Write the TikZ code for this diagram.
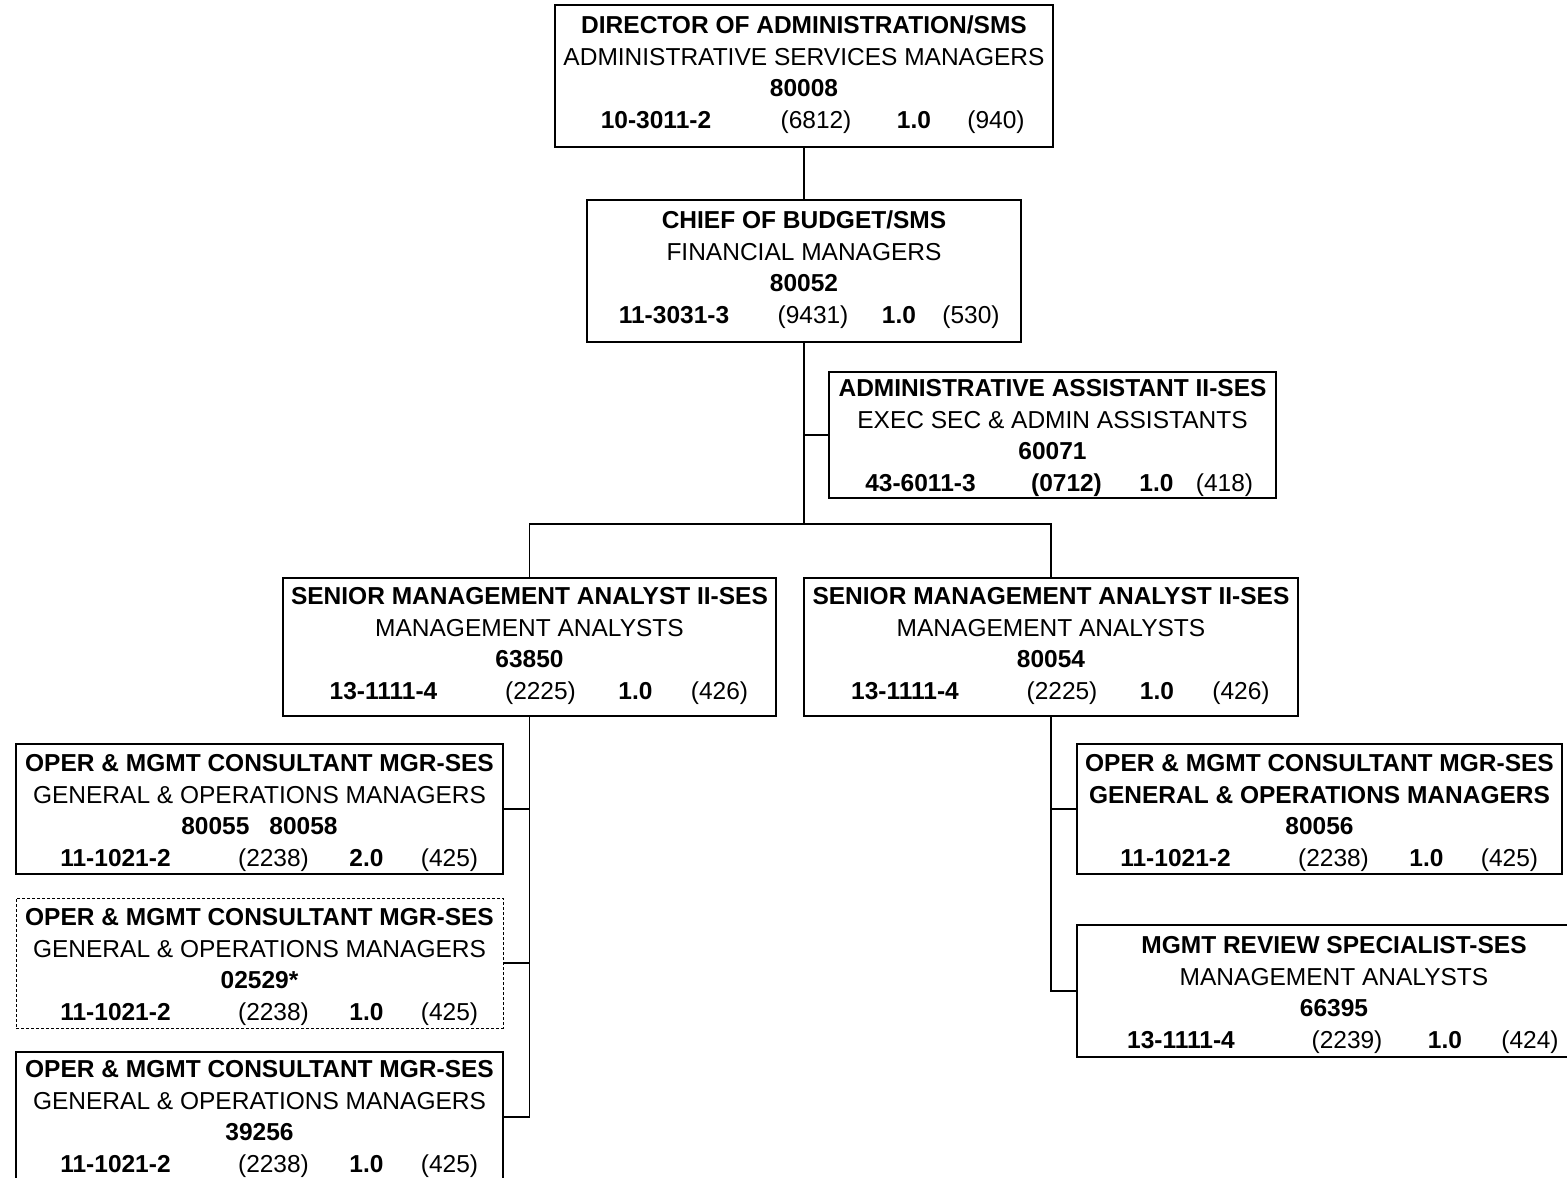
\documentclass[tikz,border=0pt]{standalone}
\usepackage{fontspec}
\setmainfont{Liberation Sans}
\usetikzlibrary{calc}

\tikzset{
  orgbox/.style={draw, line width=1.3pt, rectangle, inner sep=0pt},
  vacant/.style={draw, line width=1pt, dash pattern=on 3pt off 2pt, rectangle, inner sep=0pt},
  txt/.style={inner sep=0pt, anchor=base, font=\fontsize{24.5}{29}\selectfont},
  link/.style={line width=1.3pt},
}

% column offsets of the last line (code, class, FTE, range)
\def\colA{-145}\def\colB{12}\def\colC{108}\def\colD{190}

% #1 box, #2 first line offset, #3 title, #4 class title, #5 position no.,
% #6 code, #7 class no., #8 FTE, #9 range
\newcommand\staffbox[9]{%
  \node[txt] (#1-t) at ($(#1.north)+(0,#2+9)$) {\bfseries #3};
  \node[txt] (#1-s) at ($(#1.north)+(0,#2+40.7)$) {#4};
  \node[txt] (#1-n) at ($(#1.north)+(0,#2+72.4)$) {\bfseries #5};
  \node[txt] (#1-a) at ($(#1.north)+(\colA,#2+104)$) {\bfseries #6};
  \node[txt] (#1-b) at ($(#1.north)+(\colB,#2+104)$) {#7};
  \node[txt] (#1-c) at ($(#1.north)+(\colC,#2+104)$) {\bfseries #8};
  \node[txt] (#1-d) at ($(#1.north)+(\colD,#2+104)$) {#9};
}

\begin{document}
\begin{tikzpicture}[x=1pt, y=-1pt]
\useasboundingbox (0,0) rectangle (1567,1178);
\clip (0,0) rectangle (1567,1178);

% boxes
\node[orgbox, minimum width=498pt, minimum height=142pt] (dir)   at (804,76) {};
\node[orgbox, minimum width=434pt, minimum height=142pt] (chief) at (804,271) {};
\node[orgbox, minimum width=447pt, minimum height=126pt] (asst)  at (1052.5,435) {};
\node[orgbox, minimum width=493pt, minimum height=138pt] (smaL)  at (529.5,647) {};
\node[orgbox, minimum width=494pt, minimum height=138pt] (smaR)  at (1051,647) {};
\node[orgbox, minimum width=487pt, minimum height=130pt] (opA)   at (259.5,809) {};
\node[vacant, minimum width=487pt, minimum height=130pt] (opB)   at (259.5,963) {};
\node[orgbox, minimum width=487pt, minimum height=130pt] (opC)   at (259.5,1117) {};
\node[orgbox, minimum width=485pt, minimum height=130pt] (opR)   at (1319.5,809) {};
\node[orgbox, minimum width=514pt, minimum height=132pt] (rev)   at (1334,991) {};

% connectors
\coordinate (bus) at (804,524);
\draw[link] (dir.south) -- (chief.north);
\draw[link] (chief.south) -- (bus);
\draw[link] (asst.west) -- (asst.west -| chief.south);
\draw[link] (smaL.north) |- (bus) -| (smaR.north);
\draw[link] (smaL.south) |- (opC.east);
\draw[link] (opA.east) -- (opA.east -| smaL.south);
\draw[link] (opB.east) -- (opB.east -| smaL.south);
\draw[link] (smaR.south) |- (rev.west);
\draw[link] (opR.west) -- (opR.west -| smaR.south);

% texts
\def\colA{-148}\def\colB{12}\def\colC{110}\def\colD{192}
\staffbox{dir}{20}{DIRECTOR OF ADMINISTRATION/SMS}{ADMINISTRATIVE SERVICES MANAGERS}{80008}{10-3011-2}{(6812)}{1.0}{(940)}
\def\colA{-130}\def\colB{9}\def\colC{95}\def\colD{167}
\staffbox{chief}{20}{CHIEF OF BUDGET/SMS}{FINANCIAL MANAGERS}{80052}{11-3031-3}{(9431)}{1.0}{(530)}
\def\colA{-132}\def\colB{14}\def\colC{104}\def\colD{172}
\staffbox{asst}{16}{ADMINISTRATIVE ASSISTANT II-SES}{EXEC SEC \& ADMIN ASSISTANTS}{60071}{43-6011-3}{\bfseries (0712)}{1.0}{(418)}
\def\colA{-146}\def\colB{11}\def\colC{106}\def\colD{190}
\staffbox{smaL}{18}{SENIOR MANAGEMENT ANALYST II-SES}{MANAGEMENT ANALYSTS}{63850}{13-1111-4}{(2225)}{1.0}{(426)}
\staffbox{smaR}{18}{SENIOR MANAGEMENT ANALYST II-SES}{MANAGEMENT ANALYSTS}{80054}{13-1111-4}{(2225)}{1.0}{(426)}
\def\colA{-144}\def\colB{14}\def\colC{107}\def\colD{190}
\staffbox{opA}{19}{OPER \& MGMT CONSULTANT MGR-SES}{GENERAL \& OPERATIONS MANAGERS}{80055\hspace{20pt}80058}{11-1021-2}{(2238)}{2.0}{(425)}
\staffbox{opB}{19}{OPER \& MGMT CONSULTANT MGR-SES}{GENERAL \& OPERATIONS MANAGERS}{02529*}{11-1021-2}{(2238)}{1.0}{(425)}
\staffbox{opC}{17}{OPER \& MGMT CONSULTANT MGR-SES}{GENERAL \& OPERATIONS MANAGERS}{39256}{11-1021-2}{(2238)}{1.0}{(425)}
\staffbox{opR}{19}{OPER \& MGMT CONSULTANT MGR-SES}{\bfseries GENERAL \& OPERATIONS MANAGERS}{80056}{11-1021-2}{(2238)}{1.0}{(425)}
\def\colA{-153}\def\colB{13}\def\colC{111}\def\colD{196}
\staffbox{rev}{20}{MGMT REVIEW SPECIALIST-SES}{MANAGEMENT ANALYSTS}{66395}{13-1111-4}{(2239)}{1.0}{(424)}
\end{tikzpicture}
\end{document}
